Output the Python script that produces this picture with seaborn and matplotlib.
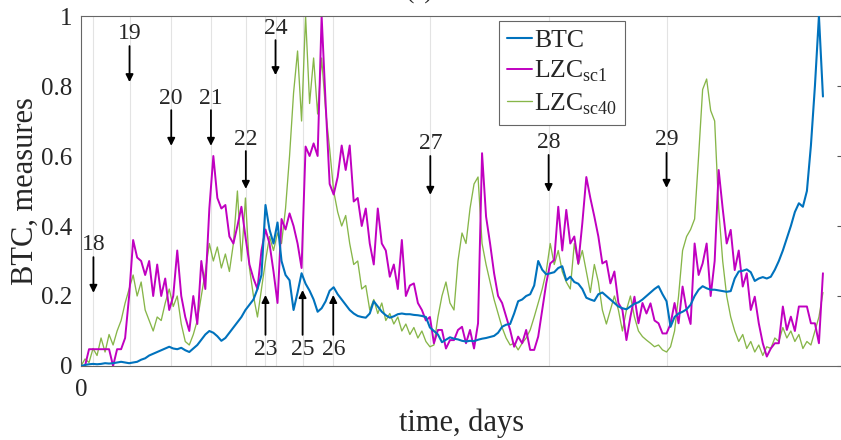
import numpy as np
import pandas as pd
import matplotlib
matplotlib.use('Agg')
import matplotlib.pyplot as plt
import seaborn as sns

# values, one per day
btc = [0, 0.003, 0.005, 0.006, 0.005, 0.006, 0.008, 0.007, 0.008, 0.01,
       0.012, 0.01, 0.008, 0.01, 0.012, 0.018, 0.022, 0.03, 0.035, 0.04,
       0.045, 0.05, 0.055, 0.05, 0.048, 0.052, 0.045, 0.04, 0.05, 0.06,
       0.075, 0.09, 0.1, 0.095, 0.085, 0.072, 0.08, 0.095, 0.11, 0.125,
       0.14, 0.16, 0.175, 0.19, 0.22, 0.26, 0.46, 0.39, 0.35, 0.41,
       0.3, 0.26, 0.245, 0.16, 0.21, 0.265, 0.235, 0.215, 0.19, 0.155,
       0.165, 0.185, 0.215, 0.225, 0.205, 0.19, 0.175, 0.16, 0.15, 0.143,
       0.14, 0.138, 0.15, 0.185, 0.17, 0.155, 0.145, 0.138, 0.142, 0.148,
       0.15, 0.148, 0.148, 0.146, 0.145, 0.143, 0.14, 0.11, 0.1, 0.09,
       0.068, 0.075, 0.082, 0.078, 0.076, 0.072, 0.07, 0.072, 0.071, 0.075,
       0.078, 0.08, 0.083, 0.086, 0.095, 0.112, 0.118, 0.12, 0.15, 0.185,
       0.19, 0.2, 0.205, 0.23, 0.3, 0.275, 0.262, 0.265, 0.268, 0.28,
       0.285, 0.245, 0.255, 0.24, 0.235, 0.22, 0.195, 0.19, 0.186, 0.205,
       0.21, 0.2, 0.19, 0.18, 0.17, 0.165, 0.162, 0.17, 0.178, 0.182,
       0.19, 0.2, 0.21, 0.22, 0.228, 0.205, 0.185, 0.112, 0.14, 0.15,
       0.155, 0.162, 0.175, 0.2, 0.218, 0.228, 0.222, 0.218, 0.218, 0.216,
       0.214, 0.212, 0.214, 0.25, 0.27, 0.272, 0.276, 0.268, 0.243, 0.25,
       0.254, 0.25, 0.255, 0.275, 0.3, 0.33, 0.365, 0.4, 0.44, 0.465,
       0.455, 0.5, 0.63, 0.8, 1.0, 0.77]

lzc_sc1 = [0, 0, 0.048, 0.048, 0.048, 0.048, 0.048, 0.048, 0.0, 0.048,
           0.048, 0.08, 0.2, 0.36, 0.31, 0.3, 0.26, 0.3, 0.2, 0.29,
           0.2, 0.25, 0.16, 0.2, 0.33, 0.2, 0.14, 0.1, 0.2, 0.12,
           0.3, 0.22, 0.45, 0.6, 0.48, 0.45, 0.46, 0.37, 0.35, 0.4,
           0.455, 0.37, 0.29, 0.25, 0.22, 0.33, 0.39, 0.35, 0.27, 0.18,
           0.42, 0.39, 0.436, 0.4, 0.35, 0.28, 0.627, 0.6, 0.636, 0.6,
           1.0, 0.75, 0.52, 0.49, 0.54, 0.63, 0.56, 0.63, 0.47, 0.48,
           0.4, 0.45, 0.35, 0.29, 0.45, 0.35, 0.33, 0.255, 0.29, 0.22,
           0.36, 0.2, 0.23, 0.236, 0.18, 0.16, 0.13, 0.14, 0.065, 0.103,
           0.103, 0.05, 0.074, 0.074, 0.103, 0.112, 0.065, 0.103, 0.05, 0.122,
           0.608, 0.427, 0.35, 0.265, 0.2, 0.18, 0.141, 0.103, 0.055, 0.084,
           0.065, 0.103, 0.046, 0.046, 0.084, 0.16, 0.236, 0.293, 0.303, 0.455,
           0.33, 0.446, 0.35, 0.37, 0.293, 0.408, 0.54, 0.48, 0.427, 0.37,
           0.293, 0.3, 0.236, 0.27, 0.18, 0.16, 0.074, 0.141, 0.198, 0.122,
           0.18, 0.15, 0.179, 0.13, 0.122, 0.093, 0.093, 0.12, 0.18, 0.122,
           0.227, 0.16, 0.12, 0.35, 0.26, 0.293, 0.35, 0.2, 0.3, 0.56,
           0.45, 0.35, 0.389, 0.274, 0.33, 0.227, 0.265, 0.16, 0.198, 0.122,
           0.065, 0.027, 0.05, 0.065, 0.065, 0.17, 0.103, 0.141, 0.1, 0.17,
           0.17, 0.17, 0.122, 0.122, 0.065, 0.265]

lzc_sc40 = [0.0, 0.02, 0.01, 0.05, 0.03, 0.08, 0.04, 0.09, 0.06, 0.1,
            0.13, 0.18, 0.22, 0.26, 0.2, 0.24, 0.16, 0.13, 0.1, 0.14,
            0.13, 0.18, 0.22, 0.17, 0.2, 0.12, 0.07, 0.06, 0.09, 0.13,
            0.2, 0.27, 0.35, 0.3, 0.34, 0.28, 0.32, 0.27, 0.35, 0.5,
            0.3, 0.48, 0.28, 0.2, 0.14, 0.22, 0.3, 0.37, 0.33, 0.38,
            0.35, 0.45, 0.6, 0.78, 0.9, 0.7, 1.0, 0.75, 0.88, 0.72,
            0.88, 0.73, 0.62, 0.5, 0.44, 0.4, 0.43, 0.35, 0.29, 0.3,
            0.22, 0.23, 0.16, 0.19, 0.15, 0.18, 0.13, 0.15, 0.12, 0.14,
            0.1, 0.12, 0.09, 0.11, 0.08, 0.1, 0.07, 0.055, 0.06, 0.14,
            0.2, 0.24, 0.18, 0.16, 0.3, 0.38, 0.35, 0.45, 0.52, 0.54,
            0.35, 0.29, 0.24, 0.19, 0.15, 0.11, 0.08, 0.06, 0.065, 0.046,
            0.065, 0.08, 0.103, 0.14, 0.18, 0.22, 0.27, 0.35, 0.29, 0.33,
            0.27, 0.24, 0.22, 0.35, 0.29, 0.33, 0.27, 0.21, 0.29, 0.24,
            0.16, 0.12, 0.16, 0.2, 0.16, 0.1, 0.16, 0.2, 0.14, 0.1,
            0.084, 0.074, 0.065, 0.055, 0.06, 0.046, 0.04, 0.055, 0.1, 0.2,
            0.33, 0.37, 0.39, 0.42, 0.6, 0.79, 0.82, 0.73, 0.7, 0.45,
            0.3, 0.2, 0.14, 0.1, 0.07, 0.09, 0.05, 0.07, 0.04, 0.06,
            0.03, 0.055, 0.05, 0.08, 0.07, 0.11, 0.08, 0.1, 0.07, 0.09,
            0.05, 0.07, 0.06, 0.1, 0.14, 0.21]

# crash events: day, label, arrow direction
event_days = [3.1, 12.1, 22.5, 32.4, 41.1, 46.0, 48.5, 55.25, 62.9, 87.1, 116.6, 146.0]
event_labels = ['18', '19', '20', '21', '22', '23', '24', '25', '26', '27', '28', '29']
# label height, arrow tail, arrow tip (in y units)
event_text_y = [0.346, 0.951, 0.763, 0.763, 0.646, 0.046, 0.963, 0.046, 0.046, 0.637, 0.64, 0.646]
event_tail_y = [0.311, 0.914, 0.731, 0.731, 0.614, 0.089, 0.931, 0.089, 0.089, 0.6, 0.603, 0.609]
event_tip_y = [0.209, 0.811, 0.629, 0.629, 0.506, 0.203, 0.831, 0.217, 0.203, 0.489, 0.497, 0.509]

sns.set_style('white')
plt.rcParams['font.family'] = ['Liberation Serif', 'DejaVu Serif']
plt.rcParams['mathtext.fontset'] = 'custom'
plt.rcParams['mathtext.rm'] = 'Liberation Serif'

days = np.arange(len(btc))
df = pd.DataFrame({'day': days, 'btc': btc, 'sc1': lzc_sc1, 'sc40': lzc_sc40})

fig = plt.figure(figsize=(8.41, 4.40), dpi=100)
ax = fig.add_axes([81 / 841, 1 - 366 / 440, 762 / 841, 350 / 440])

for d in event_days:
    ax.axvline(d, color='#e3e3e3', lw=0.8, zorder=0)

sns.lineplot(data=df, x='day', y='btc', ax=ax, color='#0072BD', lw=1.5,
             estimator=None, label='BTC', zorder=3)
sns.lineplot(data=df, x='day', y='sc1', ax=ax, color='#C000C0', lw=1.4,
             estimator=None, label=r'LZC$_{\mathrm{sc1}}$', zorder=2)
sns.lineplot(data=df, x='day', y='sc40', ax=ax, color='#7AAE35', lw=0.95, alpha=0.9,
             estimator=None, label=r'LZC$_{\mathrm{sc40}}$', zorder=1)

for d, lab, ty, t0, t1 in zip(event_days, event_labels, event_text_y, event_tail_y, event_tip_y):
    ax.annotate('', xy=(d, t1), xytext=(d, t0),
                arrowprops=dict(arrowstyle='-|>', color='black', lw=1.3, mutation_scale=11,
                                shrinkA=0, shrinkB=0))
    ax.text(d, ty, lab, ha='center', va='center', fontsize=17)

ax.set_xlim(0, 190)
ax.set_ylim(0, 1)
ax.set_xticks([0])
ax.set_yticks([0, 0.2, 0.4, 0.6, 0.8, 1])
ax.set_yticklabels(['0', '0.2', '0.4', '0.6', '0.8', '1'])
ax.tick_params(axis='both', labelsize=18, direction='in', length=4, color='#555555')
ax.tick_params(axis='x', pad=9)
ax.tick_params(axis='y', pad=6, right=True)
for s in ax.spines.values():
    s.set_color('#666666')
    s.set_linewidth(0.8)
ax.spines['right'].set_visible(False)

ax.set_xlabel('time, days', fontsize=22, labelpad=6)
ax.set_ylabel('BTC, measures', fontsize=22, labelpad=1)

leg = ax.legend(loc='upper left', bbox_to_anchor=(0.5487, 0.986), fontsize=18.5,
                handlelength=0.97, handletextpad=0.08, labelspacing=0.28,
                borderpad=0.3, borderaxespad=0, fancybox=False, framealpha=1,
                edgecolor='#666666')
leg.get_frame().set_linewidth(0.8)

fig.text(420 / 841, 1 + 1 / 440, '(a)', ha='center', va='baseline', fontsize=18)

fig.savefig('out.png', dpi=100)
